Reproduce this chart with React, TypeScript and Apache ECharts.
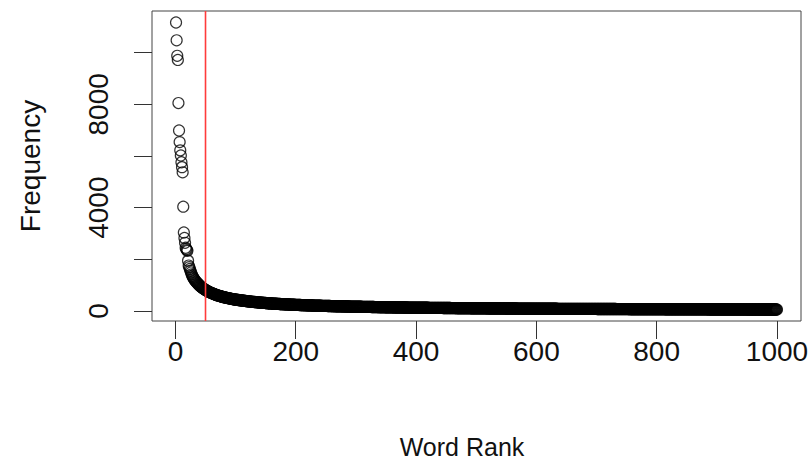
import React, { useEffect, useRef } from "react";
import * as echarts from "echarts";

// Word frequencies by rank
const freqRank1to25 = [
  11170, 10480, 9880, 9720, 8050, 6990, 6540, 6220, 6020, 5760, 5570, 5370, 4040,
  3040, 2830, 2640, 2450, 2400, 2360, 2330, 1950, 1760, 1700, 1630, 1560,
];
const freqRank26to100 = [
  1490, 1420, 1365, 1320, 1280, 1240, 1200, 1170, 1140, 1115, 1090, 1065, 1040, 1015, 992,
  970, 950, 930, 912, 895, 878, 862, 846, 831, 816,
  802, 789, 776, 763, 751, 739, 727, 716, 705, 695,
  685, 676, 667, 658, 649, 640, 631, 623, 615, 606,
  599, 592, 585, 578, 571, 565, 558, 552, 546, 539,
  533, 528, 522, 517, 512, 507, 502, 497, 491, 486,
  481, 477, 472, 468, 463, 459, 455, 450, 446, 442,
];
const freqRank101to200 = [
  439, 435, 432, 429, 425, 422, 419, 416, 413, 410, 406, 403, 400, 397, 394, 391, 388, 385, 381, 377,
  375, 372, 370, 367, 365, 362, 360, 357, 355, 353, 350, 348, 346, 343, 341, 339, 336, 334, 331, 329,
  327, 325, 323, 321, 319, 317, 315, 314, 312, 310, 308, 306, 304, 302, 300, 299, 297, 295, 293, 292,
  290, 289, 287, 286, 284, 283, 281, 280, 278, 277, 275, 274, 272, 271, 270, 268, 267, 266, 265, 264,
  263, 261, 260, 259, 257, 256, 255, 253, 252, 251, 249, 248, 247, 246, 245, 244, 243, 242, 241, 240,
];
const freqRank201to300 = [
  239, 238, 237, 236, 235, 234, 233, 232, 231, 230,
  229, 228, 228, 227, 226, 225, 224, 223, 222, 221,
  220, 219, 218, 218, 217, 216, 215, 214, 213, 212,
  211, 211, 210, 209, 208, 207, 206, 206, 205, 204,
  203, 203, 202, 201, 200, 200, 199, 198, 198, 197,
  196, 196, 195, 194, 194, 193, 193, 192, 191, 191,
  190, 189, 189, 188, 188, 187, 186, 186, 185, 185,
  184, 183, 183, 182, 182, 181, 181, 180, 179, 179,
  178, 178, 177, 177, 176, 176, 175, 174, 174, 173,
  173, 172, 172, 171, 171, 170, 170, 169, 169, 168,
];
const freqRank301to400 = [
  168, 167, 167, 166, 166, 165, 165, 164, 164, 163,
  163, 163, 162, 162, 161, 161, 160, 160, 159, 159,
  159, 158, 158, 157, 157, 156, 156, 156, 155, 155,
  154, 154, 153, 153, 152, 152, 152, 151, 151, 150,
  150, 150, 149, 149, 149, 148, 148, 148, 147, 147,
  147, 146, 146, 146, 145, 145, 145, 144, 144, 143,
  143, 143, 142, 142, 142, 141, 141, 141, 140, 140,
  140, 139, 139, 139, 138, 138, 138, 137, 137, 137,
  136, 136, 136, 135, 135, 134, 134, 134, 133, 133,
  133, 132, 132, 132, 131, 131, 131, 130, 130, 130,
];
// ranks 401-1000: frequency value and how many consecutive words share it
const tailFreqValues = [
  129, 128, 127, 126, 125, 124, 123, 122, 121, 120, 119, 118, 117, 116, 115, 114, 113, 112, 111, 110, 109, 108, 107,
  106, 105, 104, 103, 102, 101, 100, 99, 98, 97, 96, 95, 94, 93, 92, 91,
  90, 89, 88, 87, 86, 85, 84, 83, 82, 81, 80,
  79, 78, 77, 76, 75, 74, 73, 72, 71,
  70, 69, 68, 67, 66, 65, 64,
  63, 62, 61, 60, 59, 58,
];
const tailFreqCounts = [
  4, 4, 4, 4, 4, 4, 4, 4, 4, 4, 4, 4, 4, 5, 4, 5, 5, 4, 5, 5, 5, 5, 5,
  6, 6, 6, 6, 6, 6, 6, 6, 6, 6, 7, 6, 7, 7, 6, 7,
  8, 8, 9, 9, 9, 9, 9, 9, 10, 10, 10,
  10, 11, 11, 11, 11, 11, 11, 12, 12,
  13, 14, 14, 14, 15, 15, 15,
  16, 16, 17, 17, 17, 17,
];
const cutoffRank = 50;
const xTicks = [0, 200, 400, 600, 800, 1000];
const yTicks = [0, 2000, 4000, 6000, 8000, 10000];
const yLabelShown = [0, 4000, 8000];

export default function App() {
  const ref = useRef<HTMLDivElement>(null);
  useEffect(() => {
    if (!ref.current) return;
    const chart = echarts.init(ref.current, null, { renderer: "svg" });

    const freqs: number[] = [
      ...freqRank1to25,
      ...freqRank26to100,
      ...freqRank101to200,
      ...freqRank201to300,
      ...freqRank301to400,
    ];
    tailFreqValues.forEach((v, i) => {
      for (let k = 0; k < tailFreqCounts[i]; k++) freqs.push(v);
    });
    const data = freqs.map((f, i) => [i + 1, f]);

    const xLo = 1, xHi = freqs.length;
    const yLo = Math.min(...freqs), yHi = Math.max(...freqs);
    const xPad = 0.04 * (xHi - xLo), yPad = 0.04 * (yHi - yLo);
    const yMin = yLo - yPad, yMax = yHi + yPad;
    const font = "'Liberation Sans', Arial, Helvetica, sans-serif";

    chart.setOption({
      animation: false,
      backgroundColor: "#fff",
      grid: {
        left: 152, right: 11, top: 11, bottom: 142,
        show: true, borderColor: "#444", borderWidth: 1, backgroundColor: "transparent",
      },
      xAxis: {
        type: "value",
        min: xLo - xPad, max: xHi + xPad,
        splitLine: { show: false },
        axisLine: { show: false, onZero: false },
        axisTick: { show: true, inside: false, length: 18, customValues: xTicks, lineStyle: { color: "#333", width: 1 } },
        axisLabel: {
          customValues: xTicks, margin: 16, fontSize: 28, color: "#111", fontFamily: font,
          formatter: (v: number) => String(v),
        },
      },
      yAxis: {
        type: "value",
        min: yMin, max: yMax,
        splitLine: { show: false },
        axisLine: { show: false, onZero: false },
        axisTick: { show: true, inside: false, length: 18, customValues: yTicks, lineStyle: { color: "#333", width: 1 } },
        axisLabel: {
          customValues: yLabelShown, rotate: 90, margin: 40, fontSize: 28, color: "#111", fontFamily: font,
          formatter: (v: number) => String(v),
        },
      },
      graphic: [
        {
          type: "text", x: 462, y: 447,
          style: { text: "Word Rank", fontSize: 25, fontFamily: font, fill: "#111", textAlign: "center", textVerticalAlign: "middle" },
        },
        {
          type: "text", x: 30, y: 166, rotation: Math.PI / 2,
          style: { text: "Frequency", fontSize: 28, fontFamily: font, fill: "#111", textAlign: "center", textVerticalAlign: "middle" },
        },
      ],
      series: [
        {
          type: "scatter",
          data,
          symbol: "circle",
          symbolSize: 11,
          z: 2,
          itemStyle: { color: "transparent", borderColor: "#000", borderWidth: 1.2 },
          emphasis: { disabled: true },
        },
        {
          type: "line",
          data: [[cutoffRank, yMin], [cutoffRank, yMax]],
          symbol: "none",
          z: 5,
          color: "#ff3b3b",
          lineStyle: { color: "#ff3b3b", width: 1.6, opacity: 1 },
          itemStyle: { color: "#ff3b3b" },
          emphasis: { disabled: true },
        },
      ],
    });
    return () => chart.dispose();
  }, []);
  return <div ref={ref} style={{ position: "fixed", left: 0, top: 0, width: 812, height: 463 }} />;
}
